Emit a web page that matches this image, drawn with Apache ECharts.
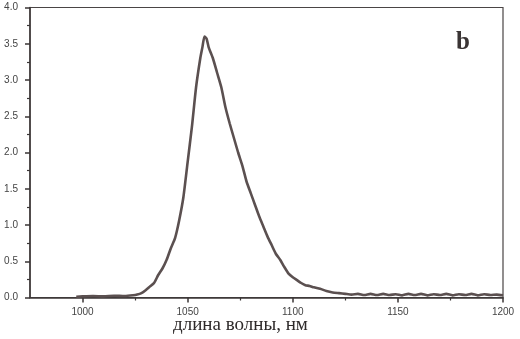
<!DOCTYPE html>
<html>
<head>
<meta charset="utf-8">
<script src="https://cdn.jsdelivr.net/npm/echarts@6/dist/echarts.min.js"></script>
<style>
  html, body { margin: 0; padding: 0; background: #fff; }
  #main { width: 520px; height: 339px; }
</style>
</head>
<body>
<div id="main"></div>
<script>
// wavelength, nm
var wavelength = [997, 1000, 1005, 1010, 1015, 1020, 1024, 1026, 1028, 1030, 1032, 1034, 1036, 1038,
  1040, 1042, 1044, 1046, 1048, 1050, 1052, 1054, 1056, 1057, 1058, 1059, 1060, 1062, 1064, 1066,
  1068, 1070, 1072, 1074, 1076, 1078, 1080, 1082, 1084, 1086, 1088, 1090, 1092, 1094, 1096, 1098,
  1100, 1102, 1104, 1106, 1108, 1110, 1113, 1116, 1119, 1122, 1125, 1128, 1131, 1134, 1137, 1140,
  1143, 1146, 1149, 1152, 1155, 1158, 1161, 1164, 1167, 1170, 1173, 1176, 1179, 1182, 1185, 1188,
  1191, 1194, 1197, 1200];
// intensity
var intensity = [0.01, 0.015, 0.02, 0.015, 0.025, 0.02, 0.03, 0.04, 0.06, 0.1, 0.15, 0.2, 0.31, 0.4,
  0.52, 0.68, 0.82, 1.07, 1.39, 1.87, 2.35, 2.9, 3.3, 3.45, 3.6, 3.57, 3.45, 3.3, 3.1, 2.9,
  2.62, 2.4, 2.2, 2.0, 1.82, 1.6, 1.44, 1.28, 1.12, 0.98, 0.84, 0.72, 0.6, 0.52, 0.42, 0.33,
  0.28, 0.24, 0.2, 0.17, 0.16, 0.14, 0.12, 0.09, 0.07, 0.06, 0.05, 0.04, 0.05, 0.035, 0.05, 0.035,
  0.05, 0.035, 0.045, 0.03, 0.05, 0.035, 0.05, 0.03, 0.045, 0.035, 0.05, 0.03, 0.045, 0.035, 0.05, 0.03,
  0.045, 0.035, 0.04, 0.03];
var majorTicks = [1000, 1050, 1100, 1150, 1200];
var minorTicksX = [1025, 1075, 1125, 1175];

var points = wavelength.map(function (w, i) { return [w, intensity[i]]; });

var axisColor = '#3b3636';
var chart = echarts.init(document.getElementById('main'));
chart.setOption({
  animation: false,
  grid: {
    left: 30, right: 17, top: 7.5, bottom: 41.5,
    show: true, borderColor: '#4a4545', borderWidth: 1.2, backgroundColor: 'transparent'
  },
  xAxis: [{
    type: 'value', min: 975, max: 1200,
    splitLine: { show: false },
    axisLine: { lineStyle: { color: axisColor, width: 1.5 } },
    axisTick: { show: true, inside: false, customValues: majorTicks, length: 5, lineStyle: { color: axisColor, width: 1.5 } },
    axisLabel: {
      customValues: majorTicks, margin: 10, fontSize: 10, color: '#444', fontFamily: 'Liberation Sans',
      formatter: function (v) { return String(v); }
    }
  }, {
    type: 'value', min: 975, max: 1200, position: 'bottom',
    splitLine: { show: false },
    axisLine: { show: false },
    axisTick: { show: true, inside: false, customValues: minorTicksX, length: 3, lineStyle: { color: axisColor, width: 1.2 } },
    axisLabel: { show: false }
  }],
  yAxis: {
    type: 'value', min: 0, max: 4, interval: 0.5,
    splitLine: { show: false },
    axisLine: { show: true, lineStyle: { color: axisColor, width: 1.5 } },
    axisTick: { show: true, inside: false, length: 5, lineStyle: { color: axisColor, width: 1.5 } },
    minorTick: { show: true, splitNumber: 2, length: 3, lineStyle: { color: axisColor, width: 1.2 } },
    axisLabel: {
      margin: 12, fontSize: 10, color: '#444', fontFamily: 'Liberation Sans',
      formatter: function (v) { return v.toFixed(1); }
    }
  },
  series: [{
    type: 'line',
    data: points,
    showSymbol: false,
    smooth: 0.2,
    lineStyle: { color: '#5b5050', width: 2.6 }
  }],
  graphic: [{
    type: 'text', left: 456, top: 30,
    style: { text: 'b', font: 'bold 25px "Liberation Serif"', fill: '#3a3434' }
  }, {
    type: 'text', left: 173, top: 316,
    style: { text: 'длина волны, нм', font: '19px "Liberation Serif"', fill: '#2e2a2a' }
  }]
});
</script>
</body>
</html>
